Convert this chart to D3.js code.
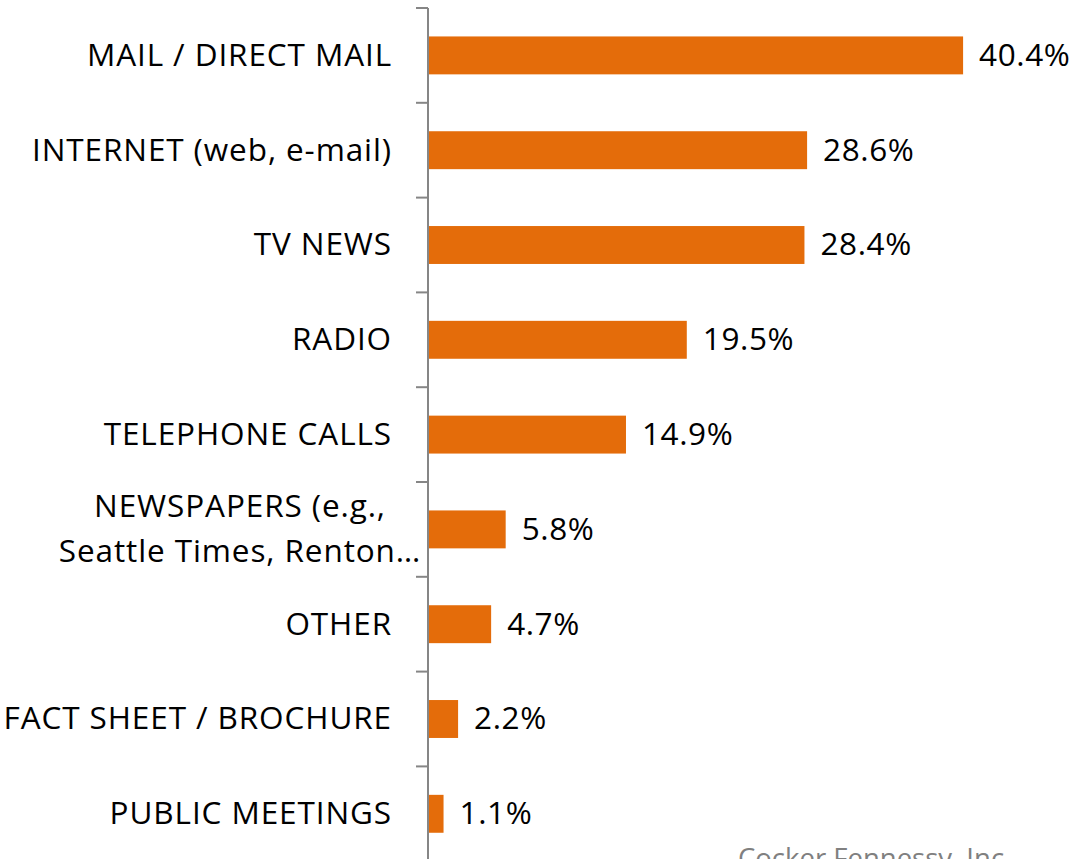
<!DOCTYPE html>
<html>
<head>
<meta charset="utf-8">
<script src="https://cdn.jsdelivr.net/npm/d3@7"></script>
<style>
  body { margin: 0; background: #fff; }
  text { font-family: "Open Sans", sans-serif; }
</style>
</head>
<body>
<svg id="chart"></svg>
<script>
// data
var categories = [
  ["MAIL / DIRECT MAIL"],
  ["INTERNET (web, e-mail)"],
  ["TV NEWS"],
  ["RADIO"],
  ["TELEPHONE CALLS"],
  ["NEWSPAPERS (e.g.,", "Seattle Times, Renton\u2026"],
  ["OTHER"],
  ["FACT SHEET / BROCHURE"],
  ["PUBLIC MEETINGS"]
];
var values = [40.4, 28.6, 28.4, 19.5, 14.9, 5.8, 4.7, 2.2, 1.1];
var valueLabels = ["40.4%", "28.6%", "28.4%", "19.5%", "14.9%", "5.8%", "4.7%", "2.2%", "1.1%"];
var source = "Cocker Fennessy, Inc.";

var width = 1076, height = 859;
var svg = d3.select("#chart").attr("width", width).attr("height", height);

var axisX = 428;
var fontSize = 31.5;
var x = d3.scaleLinear().domain([0, 45]).range([axisX + 1, axisX + 1 + 45 * 13.22]);
var y = d3.scaleBand().domain(d3.range(categories.length)).range([8, 8 + 9 * 94.8]).paddingInner(0.6).paddingOuter(0.3);

// bars
svg.selectAll("rect.bar")
  .data(values)
  .enter()
  .append("rect")
  .attr("class", "bar")
  .attr("x", x(0))
  .attr("y", function (d, i) { return y(i); })
  .attr("width", function (d) { return x(d) - x(0); })
  .attr("height", y.bandwidth())
  .attr("fill", "#e46c0a");

// value labels
svg.selectAll("text.val")
  .data(values)
  .enter()
  .append("text")
  .attr("class", "val")
  .attr("x", function (d) { return x(d) + 16; })
  .attr("y", function (d, i) { return y(i) + y.bandwidth() / 2; })
  .attr("dy", "0.33em")
  .attr("font-size", fontSize)
  .attr("letter-spacing", 0.6)
  .attr("fill", "#000")
  .text(function (d, i) { return valueLabels[i]; });

// axis with ticks between categories
var step = y.step();
var axisG = svg.append("g");
axisG.append("line")
  .attr("x1", axisX).attr("x2", axisX)
  .attr("y1", 8).attr("y2", height + 5)
  .attr("stroke", "#868686").attr("stroke-width", 2);
d3.range(categories.length + 1).forEach(function (i) {
  var ty = 8 + i * step;
  axisG.append("line")
    .attr("x1", axisX - 12).attr("x2", axisX)
    .attr("y1", ty).attr("y2", ty)
    .attr("stroke", "#868686").attr("stroke-width", 2);
});

// category labels (the wrapped one is centred in its box)
categories.forEach(function (lines, i) {
  var cy = y(i) + y.bandwidth() / 2;
  var wrapped = lines.length > 1;
  var t = svg.append("text")
    .attr("text-anchor", wrapped ? "middle" : "end")
    .attr("font-size", fontSize)
    .attr("letter-spacing", 0.9)
    .attr("fill", "#000");
  lines.forEach(function (line, j) {
    t.append("tspan")
      .attr("x", wrapped ? 240 : 392)
      .attr("y", cy + (j - (lines.length - 1) / 2) * 45)
      .attr("dy", "0.33em")
      .text(line);
  });
});

// source
svg.append("text")
  .attr("x", 738)
  .attr("y", 868)
  .attr("font-size", 27.5)
  .attr("fill", "#808080")
  .text(source);
</script>
</body>
</html>
